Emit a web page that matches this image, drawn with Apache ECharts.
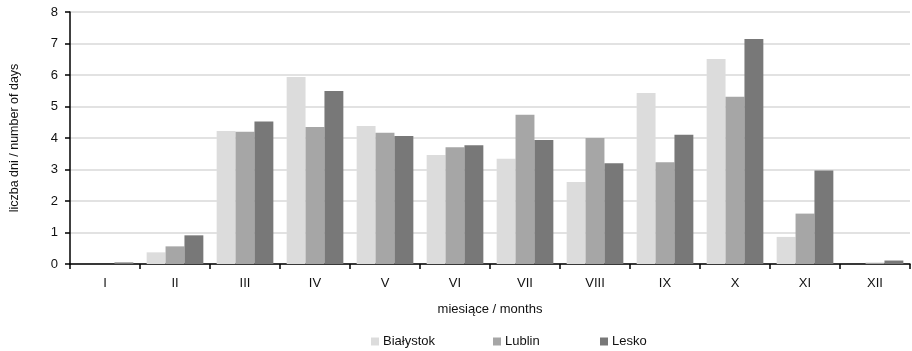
<!DOCTYPE html>
<html><head><meta charset="utf-8">
<script src="https://cdn.jsdelivr.net/npm/echarts@6/dist/echarts.min.js"></script>
<style>html,body{margin:0;padding:0;background:#fff}#c{width:912px;height:351px}</style>
</head><body><div id="c"></div>
<script>
const months = ['I','II','III','IV','V','VI','VII','VIII','IX','X','XI','XII'];
const seriesNames = ['Białystok','Lublin','Lesko'];
const bialystok = [0, 0.37, 4.22, 5.94, 4.38, 3.46, 3.34, 2.60, 5.43, 6.51, 0.86, 0];
const lublin    = [0, 0.56, 4.20, 4.35, 4.17, 3.71, 4.74, 4.00, 3.23, 5.31, 1.60, 0.04];
const lesko     = [0.05, 0.91, 4.52, 5.49, 4.06, 3.77, 3.94, 3.20, 4.10, 7.14, 2.97, 0.11];
const yTicks = [0,1,2,3,4,5,6,7,8];
const font = 'Liberation Sans, Arial, sans-serif';
const colors = ['#dcdcdc','#a6a6a6','#787878'];
const legendLefts = [366, 488, 595];
const chart = echarts.init(document.getElementById('c'));
chart.setOption({
  animation: false,
  textStyle: {fontFamily: font},
  grid: {left: 68, right: 2, top: 12, bottom: 87, containLabel: false},
  legend: seriesNames.map((n, i) => ({
    top: 330, left: legendLefts[i], itemWidth: 8, itemHeight: 8, itemGap: 4, icon: 'rect',
    textStyle: {fontFamily: font, fontSize: 13, color: '#111', padding: [0,0,0,-1]},
    data: [n]
  })),
  xAxis: {
    type: 'category', data: months,
    name: 'miesiące / months', nameLocation: 'middle', nameGap: 39,
    nameTextStyle: {fontFamily: font, fontSize: 13, color: '#111'},
    axisLine: {lineStyle: {color: '#000', width: 1.5}},
    axisTick: {show: true, alignWithLabel: false, length: 5, lineStyle: {color: '#000', width: 1.5}},
    axisLabel: {fontFamily: font, fontSize: 13, color: '#111', margin: 13}
  },
  yAxis: {
    type: 'value', min: yTicks[0], max: yTicks[yTicks.length-1], interval: 1,
    name: 'liczba dni / number of days', nameLocation: 'middle', nameGap: 49,
    nameTextStyle: {fontFamily: font, fontSize: 12.5, color: '#111'},
    axisLine: {show: true, lineStyle: {color: '#000', width: 1.5}},
    axisTick: {show: true, length: 5, lineStyle: {color: '#000', width: 1.5}},
    axisLabel: {fontFamily: font, fontSize: 13, color: '#111', margin: 12},
    splitLine: {lineStyle: {color: '#d9d9d9', width: 1.5}}
  },
  series: [bialystok, lublin, lesko].map((d, i) => ({
    name: seriesNames[i], type: 'bar', data: d, barGap: '0%', barCategoryGap: '19%',
    itemStyle: {color: colors[i]}
  }))
});
</script></body></html>
